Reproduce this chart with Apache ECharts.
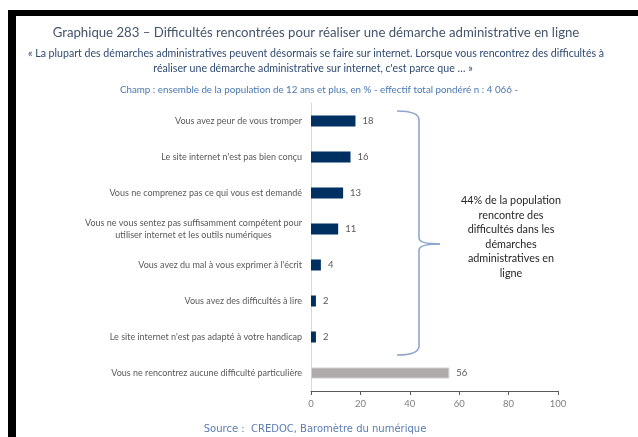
<!DOCTYPE html>
<html>
<head>
<meta charset="utf-8">
<script src="https://cdn.jsdelivr.net/npm/echarts@6/dist/echarts.min.js"></script>
<style>
html,body{margin:0;padding:0;background:#fff;}
#chart{width:638px;height:437px;}
</style>
</head>
<body>
<div id="chart"></div>
<script>
const categories = [
  "Vous avez peur de vous tromper",
  "Le site internet n'est pas bien conçu",
  "Vous ne comprenez pas ce qui vous est demandé",
  "Vous ne vous sentez pas suffisamment compétent pour\nutiliser internet et les outils numériques",
  "Vous avez du mal à vous exprimer à l'écrit",
  "Vous avez des difficultés à lire",
  "Le site internet n'est pas adapté à votre handicap",
  "Vous ne rencontrez aucune difficulté particulière"
];
const values = [18, 16, 13, 11, 4, 2, 2, 56];
const barColors = ["#002F62","#002F62","#002F62","#002F62","#002F62","#002F62","#002F62","#AFABAB"];
const xTicks = [0, 20, 40, 60, 80, 100];

const titleText = "Graphique 283 – Difficultés rencontrées pour réaliser une démarche administrative en ligne";
const subtitle1 = "« La plupart des démarches administratives peuvent désormais se faire sur internet. Lorsque vous rencontrez des difficultés à";
const subtitle2 = "réaliser une démarche administrative sur internet, c'est parce que … »";
const champText = "Champ : ensemble de la population de 12 ans et plus, en % - effectif total pondéré n : 4 066 -";
const sourceText = "Source :  CREDOC, Baromètre du numérique";
const noteLines = ["44% de la population", "rencontre des", "difficultés dans les", "démarches", "administratives en", "ligne"];

const chart = echarts.init(document.getElementById('chart'), null, {renderer: 'canvas'});
const FONT = 'Lato';

const option = {
  animation: false,
  grid: {left: 311, right: 80, top: 103, bottom: 46, containLabel: false},
  xAxis: {
    type: 'value', min: 0, max: 100, interval: 20,
    axisLine: {show: true, lineStyle: {color: '#595959', width: 1}},
    axisTick: {show: true, length: 4, lineStyle: {color: '#595959'}},
    splitLine: {show: false},
    axisLabel: {color: '#808080', fontSize: 9.5, fontFamily: FONT, margin: 8,
      formatter: v => xTicks.includes(v) ? String(v) : ''}
  },
  yAxis: {
    type: 'category', inverse: true, data: categories,
    axisLine: {show: true, lineStyle: {color: '#D9D9D9', width: 1}},
    axisTick: {show: false},
    axisLabel: {
      color: '#595959', fontSize: 9, fontFamily: FONT, margin: 9, lineHeight: 12,
      formatter: v => '{c|' + v + '}',
      rich: {c: {align: 'center', color: '#595959', fontSize: 9, fontFamily: FONT, lineHeight: 12}}
    }
  },
  series: [{
    type: 'bar', barWidth: 11,
    data: values.map((v, i) => ({value: v, itemStyle: {color: barColors[i],
      borderColor: i === 7 ? '#D0CECE' : barColors[i], borderWidth: i === 7 ? 1 : 0}})),
    label: {show: true, position: 'right', distance: 7, color: '#595959', fontSize: 9.5, fontFamily: FONT}
  }]
};
chart.setOption(option);

function buildGraphics() {
  const y0 = chart.convertToPixel({yAxisIndex: 0}, 0);
  const y6 = chart.convertToPixel({yAxisIndex: 0}, 6);
  const top = y0 - 10, bot = y6 + 18;
  const mid = (top + bot) / 2 + 11;
  const bx = 397, vx = 419, px = 440;
  const st = {fill: null, stroke: '#8EA6CC', lineWidth: 1.6};
  const g = [
    {type: 'rect', shape: {x: 8, y: 10, width: 630, height: 6}, style: {fill: '#000'}},
    {type: 'rect', shape: {x: 8, y: 10, width: 8, height: 427}, style: {fill: '#000'}},
    {type: 'text', x: 316, y: 33, style: {text: titleText, fill: '#44546A', font: '13.2px ' + FONT, textAlign: 'center', textVerticalAlign: 'middle'}},
    {type: 'text', x: 316, y: 54, style: {text: subtitle1, fill: '#2E4A72', font: '10.6px ' + FONT, textAlign: 'center', textVerticalAlign: 'middle'}},
    {type: 'text', x: 313, y: 69, style: {text: subtitle2, fill: '#2E4A72', font: '10.6px ' + FONT, textAlign: 'center', textVerticalAlign: 'middle'}},
    {type: 'text', x: 319, y: 90, style: {text: champText, fill: '#4A78B0', font: '9.8px ' + FONT, textAlign: 'center', textVerticalAlign: 'middle'}},
    {type: 'text', x: 315, y: 429, style: {text: sourceText, fill: '#5B7CB2', font: '10px "DejaVu Sans"', textAlign: 'center', textVerticalAlign: 'middle'}},
    {type: 'bezierCurve', shape: {x1: bx, y1: top, x2: vx, y2: top + 9, cpx1: vx, cpy1: top}, style: st},
    {type: 'line', shape: {x1: vx, y1: top + 9, x2: vx, y2: mid - 6}, style: st},
    {type: 'bezierCurve', shape: {x1: vx, y1: mid - 6, x2: px, y2: mid, cpx1: vx, cpy1: mid}, style: st},
    {type: 'bezierCurve', shape: {x1: px, y1: mid, x2: vx, y2: mid + 6, cpx1: vx, cpy1: mid}, style: st},
    {type: 'line', shape: {x1: vx, y1: mid + 6, x2: vx, y2: bot - 9}, style: st},
    {type: 'bezierCurve', shape: {x1: vx, y1: bot - 9, x2: bx, y2: bot, cpx1: vx, cpy1: bot}, style: st}
  ];
  noteLines.forEach((t, i) => {
    g.push({type: 'text', x: 511, y: 201 + i * 14.5, style: {text: t, fill: '#262626', font: '10.8px ' + FONT, textAlign: 'center', textVerticalAlign: 'middle'}});
  });
  chart.setOption({graphic: g});
}
buildGraphics();
</script>
</body>
</html>
